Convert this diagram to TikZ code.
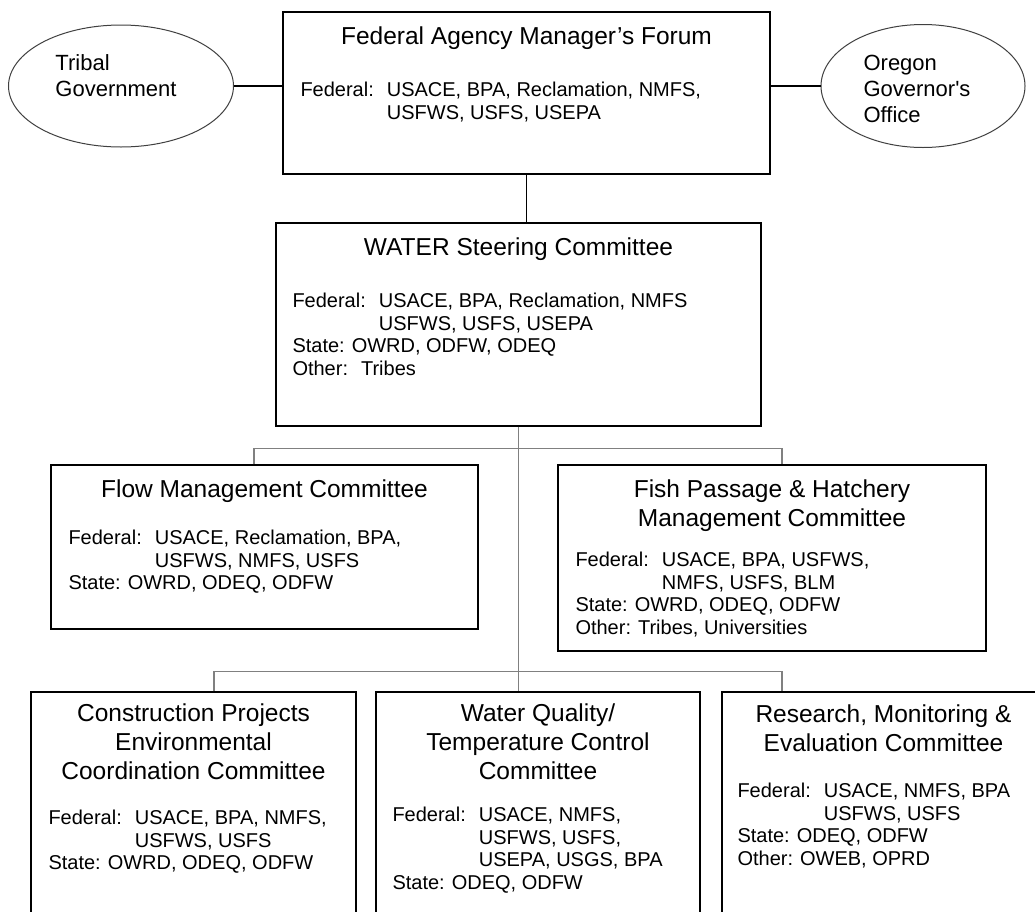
\documentclass[tikz,border=0pt]{standalone}
\usepackage{fontspec}
\setmainfont{Liberation Sans}
\usetikzlibrary{shapes.geometric}
\newcommand\fedtab{\hspace{0.65em}}
\newcommand\fedcont{\hphantom{Federal:\fedtab}}
\newcommand\sttab{\hspace{0.35em}}
\begin{document}
\begin{tikzpicture}[x=1pt, y=-1pt,
    box/.style = {draw, line width=1.4pt, inner sep=0pt},
    oval/.style = {ellipse, draw=black!75, line width=1pt, inner sep=0pt},
    head/.style = {anchor=north, align=center, inner sep=0pt,
      font=\fontsize{24.5}{29}\selectfont},
    body/.style = {anchor=north west, align=left, inner sep=0pt,
      font=\fontsize{20}{22.5}\selectfont},
    otext/.style = {align=left, inner sep=0pt, font=\fontsize{22}{26}\selectfont},
    link/.style = {line width=1.2pt},
    tree/.style = {line width=1.2pt, black!50}]
  \clip (0,0) rectangle (1035,911);
  \fill [white] (0,0) rectangle (1035,911);

  % forum and partners
  \node [box, minimum width=487, minimum height=162] (forum) at (526.5,93) {};
  \node [head] (forumhead) at ([yshift=-15.5pt]forum.north) {Federal Agency Manager’s Forum};
  \node [body] (forumbody) at ([xshift=18pt, yshift=-70.7pt]forum.north west)
    {Federal:\fedtab USACE, BPA, Reclamation, NMFS,\\\fedcont USFWS, USFS, USEPA};
  \node [oval, minimum width=225, minimum height=122] (tribal) at (121,86) {};
  \node [otext] (tribaltext) at ([xshift=-5pt, yshift=10pt]tribal.center) {Tribal\\Government};
  \node [oval, minimum width=204, minimum height=123] (oregon) at (923,86) {};
  \node [otext] (oregontext) at ([xshift=-6pt, yshift=-3pt]oregon.center)
    {Oregon\\Governor\textquotesingle s\\Office};
  \draw [link] (tribal.east) -- (tribal.east -| forum.west);
  \draw [link] (oregon.west) -- (oregon.west -| forum.east);

  % steering committee
  \node [box, minimum width=485, minimum height=203] (steer) at (518.5,324.5) {};
  \node [head] (steerhead) at ([yshift=-15.5pt]steer.north) {WATER Steering Committee};
  \node [body] (steerbody) at ([xshift=17pt, yshift=-70.7pt]steer.north west)
    {Federal:\fedtab USACE, BPA, Reclamation, NMFS\\\fedcont USFWS, USFS, USEPA\\
     State:\sttab OWRD, ODFW, ODEQ\\Other:\fedtab Tribes};
  \draw [link] (forum.south) -- (forum.south |- steer.north);

  % first row
  \node [box, minimum width=427, minimum height=164] (flow) at (264.5,547) {};
  \node [head] (flowhead) at ([yshift=-15.5pt]flow.north) {Flow Management Committee};
  \node [body] (flowbody) at ([xshift=18pt, yshift=-65.7pt]flow.north west)
    {Federal:\fedtab USACE, Reclamation, BPA,\\\fedcont USFWS, NMFS, USFS\\
     State:\sttab OWRD, ODEQ, ODFW};
  \node [box, minimum width=428, minimum height=186] (fish) at (772,558) {};
  \node [head] (fishhead) at ([yshift=-15.5pt]fish.north) {Fish Passage \& Hatchery\\Management Committee};
  \node [body] (fishbody) at ([xshift=18pt, yshift=-87.7pt]fish.north west)
    {Federal:\fedtab USACE, BPA, USFWS,\\\fedcont NMFS, USFS, BLM\\
     State:\sttab OWRD, ODEQ, ODFW\\Other:\sttab Tribes, Universities};

  % second row
  \node [box, minimum width=325, minimum height=248] (constr) at (193.5,816) {};
  \node [head] (constrhead) at ([yshift=-12.5pt]constr.north)
    {Construction Projects\\Environmental\\Coordination Committee};
  \node [body] (constrbody) at ([xshift=18pt, yshift=-118.7pt]constr.north west)
    {Federal:\fedtab USACE, BPA, NMFS,\\\fedcont USFWS, USFS\\
     State:\sttab OWRD, ODEQ, ODFW};
  \node [box, minimum width=324, minimum height=248] (wq) at (538,816) {};
  \node [head] (wqhead) at ([yshift=-12.5pt]wq.north)
    {Water Quality/\\Temperature Control\\Committee};
  \node [body] (wqbody) at ([xshift=17pt, yshift=-115.7pt]wq.north west)
    {Federal:\fedtab USACE, NMFS,\\\fedcont USFWS, USFS,\\\fedcont USEPA, USGS, BPA\\
     State:\sttab ODEQ, ODFW};
  \node [box, minimum width=323, minimum height=248] (rme) at (883.5,816) {};
  \node [head] (rmehead) at ([yshift=-13.5pt]rme.north)
    {Research, Monitoring \&\\Evaluation Committee};
  \node [body] (rmebody) at ([xshift=16pt, yshift=-91.7pt]rme.north west)
    {Federal:\fedtab USACE, NMFS, BPA\\\fedcont USFWS, USFS\\
     State:\sttab ODEQ, ODFW\\Other:\sttab OWEB, OPRD};

  % tree
  \coordinate (split1) at ([yshift=-22pt]steer.south);
  \path (steer.south |- wq.north) ++(0,-20) coordinate (split2);
  \draw [tree] (steer.south) -- (steer.south |- wq.north);
  \draw [tree] ([xshift=-10.5pt]flow.north) |- (split1) -| ([xshift=10pt]fish.north);
  \draw [tree] ([xshift=20.5pt]constr.north) |- (split2) -| ([xshift=-101.5pt]rme.north);
\end{tikzpicture}
\end{document}
